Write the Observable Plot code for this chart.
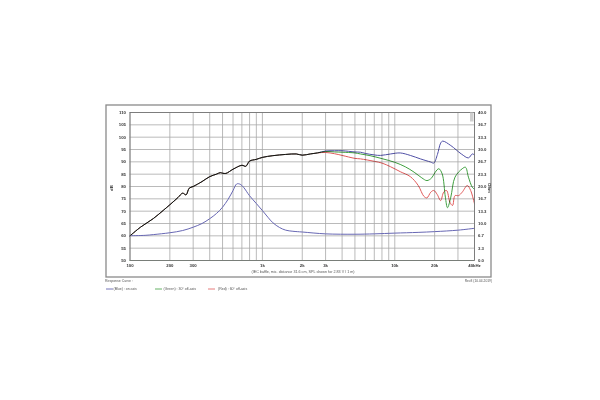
<!DOCTYPE html>
<html><head><meta charset="utf-8">
<script src="https://cdn.jsdelivr.net/npm/d3@7"></script>
<script src="https://cdn.jsdelivr.net/npm/@observablehq/plot@0.6"></script>
<style>body{margin:0;background:#fff;} #chart{position:relative;width:600px;height:400px;}</style>
</head><body><div id="chart"></div>
<script>
// Shared SPL (all three curves coincide) 100 Hz – 2.6 kHz
const freqCommon = [100,120,150,180,200,230,250,265,280,300,350,400,450,480,500,530,600,700,750,800,900,1000,1200,1500,1800,2000,2300,2600];
const splCommon  = [60,63.5,67,70.5,72.6,75.5,77.3,76.6,79.3,80,82,84,85,85.6,85.4,85.3,87,88.6,88.2,90.3,91,91.8,92.5,93,93.2,92.7,93.2,93.6];
// Blue – on axis, above 2.6 kHz
const freqBlue = [3000,3500,4000,5000,5500,6000,7000,7800,9300,11000,13100,15600,18700,19700,21000,22200,23000,26500,31800,36000,38500,40000];
const splBlue  = [94.4,94.5,94.5,94,93.9,93.4,92.8,92.6,93.2,93.6,92.6,91.2,89.9,89.5,93,97.6,98.4,96.6,93.2,91.6,93.2,92.8];
// Green – 30° off axis
const freqGreen = [3000,3500,4000,5000,5500,6500,8000,10000,12000,14000,16000,17500,19000,20200,21500,22800,24100,25000,26500,28500,32300,34200,36000,38500,40000];
const splGreen  = [94.2,94,93.9,93.6,93.2,92.5,91.3,89.8,88,85.8,83.5,82.4,83.5,85.8,87.2,85.1,75.7,71.4,75.7,83.8,87.2,87.8,83.8,79.7,78.9];
// Red – 60° off axis
const freqRed = [3000,3500,4000,5000,5500,7000,8000,9300,11000,13100,15000,16600,17500,18700,19700,20900,22200,23400,24600,26100,27300,28500,30300,32300,35300,37400,40000];
const splRed  = [93.8,93.3,92.6,91.4,91.2,90.2,89.5,88,86,84,80.5,76,75.4,77.7,78.4,76.8,74.3,77.7,78.4,73.6,72.3,76.3,76.3,77.7,80.4,78.4,73];
// Impedance (Ohm)
const impFreq = [100,130,150,200,250,300,350,400,450,500,550,600,640,680,720,800,900,1000,1100,1200,1350,1500,1700,2000,3000,5000,7000,10000,15000,20000,30000,40000];
const impOhm  = [6.7,6.8,7.0,7.5,8.1,9.0,10.0,11.3,12.7,14.4,16.5,18.9,20.7,20.6,19.8,17.5,15.4,13.5,11.7,10.2,8.9,8.2,7.9,7.7,7.2,7.1,7.2,7.4,7.6,7.8,8.2,8.7];

const xTicks = [100,200,300,500,1000,2000,3000,5000,10000,20000,40000];
const xTickLabels = ["100","200","300","500","1k","2k","3k","5k","10k","20k","40kHz"];
const xGrid = [100,200,300,400,500,600,700,800,900,1000,2000,3000,4000,5000,6000,7000,8000,9000,10000,20000,30000,40000];
const yTicks = d3.range(50, 111, 5);

const toDb = o => 50 + o * 60 / 40;
const mk = (f, v) => f.map((x, i) => ({f: x, v: v[i]}));
const common = mk(freqCommon, splCommon);
const blue = common.concat(mk(freqBlue, splBlue));
const green = common.concat(mk(freqGreen, splGreen));
const red = common.concat(mk(freqRed, splRed));
const imp = impFreq.map((x, i) => ({f: x, v: toDb(impOhm[i])}));

const C_BLUE = "#5050a6", C_GREEN = "#3f9f3f", C_RED = "#e05a5a", C_IMP = "#6868b4";

const plot = Plot.plot({
  width: 600, height: 400,
  marginLeft: 129.5, marginRight: 126, marginTop: 112, marginBottom: 140,
  style: {fontFamily: "Liberation Sans, Arial, sans-serif", background: "#fff"},
  x: {type: "log", domain: [100, 40000]},
  y: {domain: [50, 110]},
  marks: [
    Plot.ruleX(xGrid, {stroke: "#a8a8a8", strokeWidth: 0.8}),
    Plot.ruleY(yTicks, {stroke: "#a8a8a8", strokeWidth: 0.8}),
    Plot.ruleY([50], {stroke: "#9c9", strokeWidth: 1}),
    Plot.axisX({ticks: xTicks, tickFormat: (d) => xTickLabels[xTicks.indexOf(d)], tickSize: 0, tickPadding: 3, fontSize: 4.3, fontWeight: "bold", fill: "#333", label: null}),
    Plot.axisY({ticks: yTicks, tickSize: 0, tickPadding: 4, fontSize: 4.3, fontWeight: "bold", fill: "#333", label: null}),
    Plot.axisY({anchor: "right", ticks: yTicks, tickFormat: d => ((d - 50) * 40 / 60).toFixed(1), tickSize: 0, tickPadding: 3.5, fontSize: 4.3, fontWeight: "bold", fill: "#333", label: null}),
    Plot.line(imp, {x: "f", y: "v", stroke: C_IMP, strokeWidth: 1, curve: "catmull-rom"}),
    Plot.line(red, {x: "f", y: "v", stroke: C_RED, strokeWidth: 1, curve: "catmull-rom", mixBlendMode: "multiply"}),
    Plot.line(green, {x: "f", y: "v", stroke: C_GREEN, strokeWidth: 1, curve: "catmull-rom", mixBlendMode: "multiply"}),
    Plot.line(blue, {x: "f", y: "v", stroke: C_BLUE, strokeWidth: 1, curve: "catmull-rom", mixBlendMode: "multiply"}),
    Plot.frame({stroke: "#777", strokeWidth: 0.9})
  ]
});
document.getElementById("chart").appendChild(plot);

// Decorations: outer frame, axis titles, caption, legend
const svg = d3.select(plot);
svg.append("rect").attr("x", 106).attr("y", 105).attr("width", 385).attr("height", 172)
  .attr("fill", "none").attr("stroke", "#8a8a8a").attr("stroke-width", 1.3);
svg.append("rect").attr("x", 470).attr("y", 112.5).attr("width", 3.5).attr("height", 9).attr("fill", "#cfcfcf");
const txt = (x, y, s, o = {}) => svg.append("text").attr("x", x).attr("y", y)
  .attr("font-size", o.fs || 3.6).attr("font-weight", o.fw || "normal").attr("fill", o.fill || "#555")
  .attr("text-anchor", o.anchor || "start").attr("dominant-baseline", "middle")
  .attr("transform", o.rot ? `rotate(${o.rot},${x},${y})` : null)
  .style("font-family", "Liberation Sans, Arial, sans-serif").text(s);
txt(111.5, 188, "dB", {fs: 4.3, fw: "bold", fill: "#333", anchor: "middle", rot: -90});
txt(489.5, 188, "Ohm", {fs: 4.3, fw: "bold", fill: "#333", anchor: "middle", rot: 90});
txt(303, 272.3, "(IEC baffle, mic. distance 31.6 cm, SPL shown for 2.83 V / 1 m)", {fs: 3.7, anchor: "middle"});
txt(105, 281.5, "Response Curve :", {fs: 3.5});
txt(492, 281.5, "Rev3 (10.04.2019)", {fs: 3.3, anchor: "end"});
const leg = [[106, 113.5, C_BLUE, "(Blue) : on axis"], [155, 163.5, C_GREEN, "(Green) : 30° off-axis"], [208, 218, C_RED, "(Red) : 60° off-axis"]];
for (const [x0, tx, c, s] of leg) {
  svg.append("line").attr("x1", x0).attr("x2", x0 + 7).attr("y1", 289).attr("y2", 289).attr("stroke", c).attr("stroke-width", 0.8);
  txt(tx, 289, s, {fs: 3.5});
}
</script>
</body></html>
